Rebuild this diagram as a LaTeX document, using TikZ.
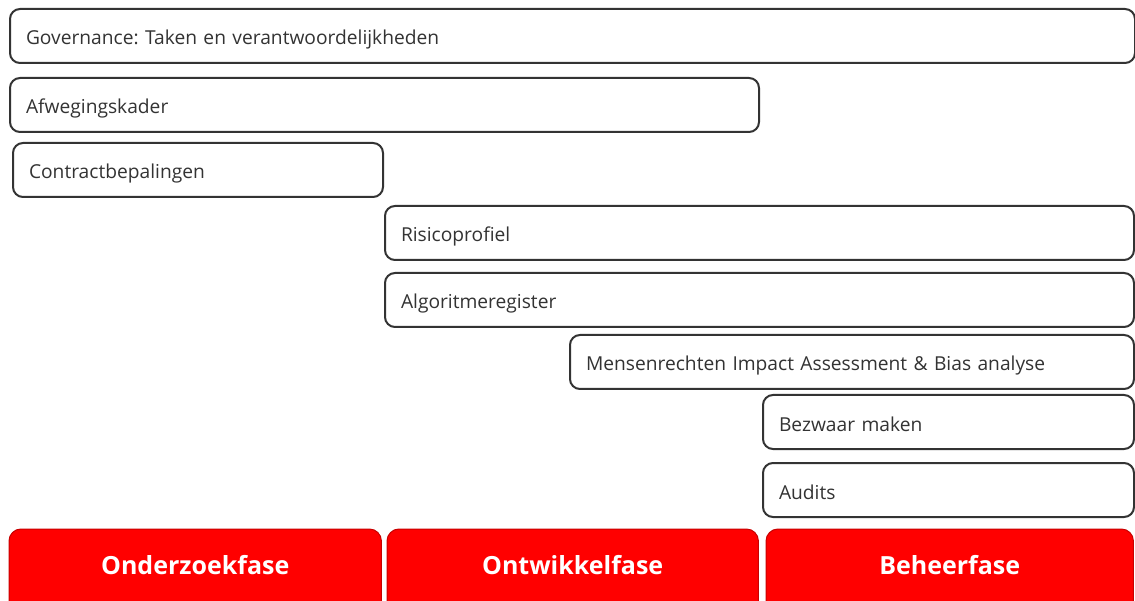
\documentclass[tikz,border=0pt]{standalone}
\usepackage{fontspec}
\usetikzlibrary{calc}
\setmainfont{Open Sans}
\frenchspacing
\definecolor{bordergray}{HTML}{333333}
\definecolor{textgray}{HTML}{333333}
\definecolor{phasered}{HTML}{FF0000}
\definecolor{phaseedge}{HTML}{C80000}
\begin{document}
\begin{tikzpicture}[x=1pt,y=-1pt,
  box/.style={draw=bordergray, line width=2pt, rounded corners=10pt, fill=white,
    anchor=north west, minimum height=54pt, inner xsep=16pt, inner ysep=0pt,
    text height=22pt, text depth=4pt,
    align=left, font=\fontsize{19.2}{22}\selectfont, text=textgray},
  phase/.style={anchor=north west, minimum height=72pt, inner sep=0pt, text=white,
    font=\fontsize{25}{30}\selectfont\bfseries},
  phasebox/.style={draw=phaseedge, line width=1pt, rounded corners=12pt, fill=phasered}]
\clip (0,0) rectangle (1135,601);
\fill[white] (0,0) rectangle (1135,601);
\node[box, text width=1093pt] (gov) at (9,8) {Governance: Taken en verantwoordelijkheden};
\node[box, text width=717pt] (afw) at (9,77) {Afwegingskader};
\node[box, text width=338pt] (con) at (12,142) {Contractbepalingen};
\node[box, text width=717pt] (ris) at (384,205) {Risicoprofiel};
\node[box, text width=717pt] (alg) at (384,272) {Algoritmeregister};
\node[box, text width=532pt] (mens) at (569,334) {Mensenrechten Impact Assessment \& Bias analyse};
\node[box, text width=339pt] (bez) at (762,394) {Bezwaar maken};
\node[box, text width=339pt] (aud) at (762,462) {Audits};
\node[phase, minimum width=372pt] (ond) at (9,529) {};
\node[phase, minimum width=371pt] (ont) at (387,529) {};
\node[phase, minimum width=367pt] (beh) at (766,529) {};
\foreach \n in {ond,ont,beh}
  \path[phasebox] (\n.north west) rectangle ($(\n.south east)+(0,20)$);
\node[phase, anchor=center] at (ond.center) {Onderzoekfase};
\node[phase, anchor=center] at (ont.center) {Ontwikkelfase};
\node[phase, anchor=center] at (beh.center) {Beheerfase};
\end{tikzpicture}
\end{document}
